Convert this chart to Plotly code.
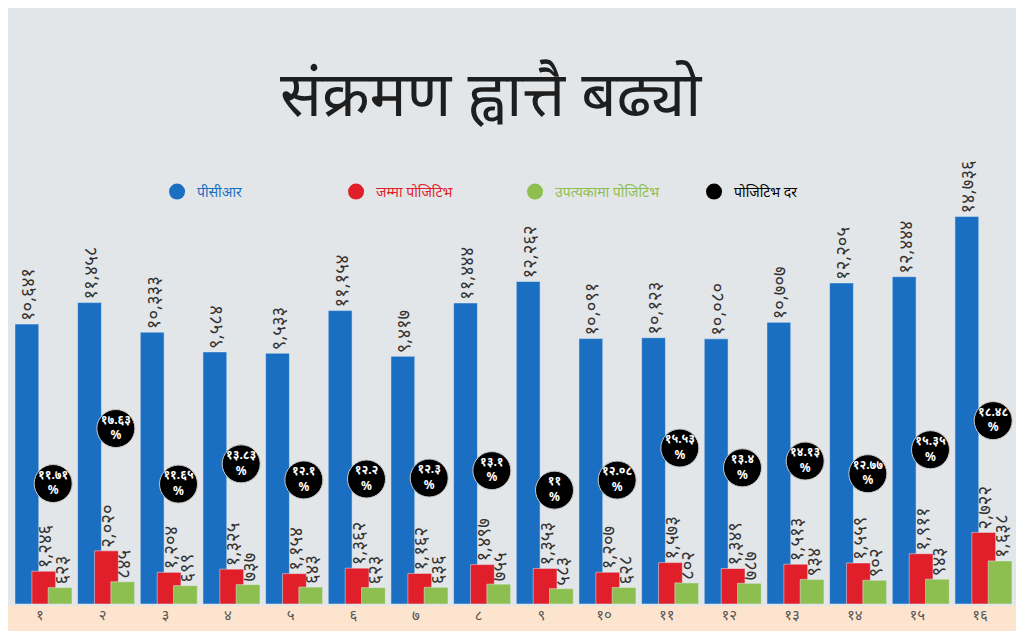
import plotly.graph_objects as go

# data
days = list(range(1, 17))
pcr = [10641, 11458, 10333, 9584, 9533, 11154, 9417, 11444, 12262, 10091, 10123, 10080, 10707, 12205, 12444, 14736]
positive = [1246, 2020, 1204, 1325, 1154, 1362, 1162, 1497, 1353, 1207, 1573, 1349, 1513, 1559, 1911, 2722]
valley = [623, 845, 699, 737, 643, 623, 636, 755, 583, 628, 802, 787, 934, 902, 943, 1638]
rate = ["11.71", "17.63", "11.65", "13.83", "12.1", "12.2", "12.3", "13.1", "11",
        "12.08", "15.53", "13.4", "14.13", "12.77", "15.35", "18.48"]

BLUE = "#1b6fc2"
RED = "#e01f2b"
GREEN = "#8dbf50"
BG = "#e3e6e9"
FONT = "Noto Sans, sans-serif"

DIG = str.maketrans("0123456789", "०१२३४५६७८९")


def dev(v):
    if isinstance(v, int):
        v = f"{v:,}"
    return v.translate(DIG)


fig = go.Figure()

bar_style = dict(width=0.38, textposition="outside", textangle=-90, cliponaxis=False,
                 constraintext="none", showlegend=False, hoverinfo="y",
                 textfont=dict(size=18.5, color="#333333", family=FONT))
fig.add_trace(go.Bar(x=days, y=pcr, offset=-0.40, marker_color=BLUE,
                     text=[dev(v) for v in pcr], **bar_style))
fig.add_trace(go.Bar(x=days, y=positive, offset=-0.13, marker_color=RED,
                     text=[dev(v) for v in positive], **bar_style))
fig.add_trace(go.Bar(x=days, y=valley, offset=0.13, marker_color=GREEN,
                     text=[dev(v) for v in valley], **bar_style))

fig.add_trace(go.Scatter(x=[d + 0.21 for d in days], y=[float(r) for r in rate], yaxis="y2",
                         mode="markers+text", showlegend=False, cliponaxis=False,
                         marker=dict(size=38, color="black", line=dict(color="#c8c8c8", width=1)),
                         text=["<b>" + dev(r) + "<br>%</b>" for r in rate],
                         textposition="middle center",
                         textfont=dict(size=12, color="white", family=FONT)))

# legend entries (round markers like the original)
for name, col in [("पीसीआर", BLUE), ("जम्मा पोजिटिभ", RED),
                  ("उपत्यकामा पोजिटिभ", GREEN), ("पोजिटिभ दर", "black")]:
    fig.add_trace(go.Scatter(x=[None], y=[None], mode="markers",
                             marker=dict(size=16, color=col),
                             name='<span style="color:%s">%s</span>' % (col, name)))

fig.update_layout(
    width=1016, height=623,
    paper_bgcolor=BG, plot_bgcolor=BG,
    barmode="overlay",
    margin=dict(l=0, r=0, t=142, b=27),
    font=dict(family=FONT, color="#333333"),
    xaxis=dict(range=[0.489, 16.702], tickvals=days, ticktext=[dev(str(d)) for d in days],
               showgrid=False, zeroline=False, ticks="", showline=False,
               tickfont=dict(size=15, color="#555555")),
    yaxis=dict(range=[0, 17260], visible=False),
    yaxis2=dict(range=[-1.25, 47.6], overlaying="y", visible=False),
    legend=dict(orientation="h", x=0.1467, y=0.9075, xanchor="left", yanchor="middle",
                entrywidth=134, entrywidthmode="pixels", bgcolor="rgba(0,0,0,0)",
                font=dict(size=14, family=FONT)),
    shapes=[dict(type="rect", xref="paper", yref="paper", x0=0, x1=1, y0=-0.0595, y1=-0.004,
                 fillcolor="#fde4cf", line=dict(width=0), layer="below")],
    annotations=[dict(text="संक्रमण ह्वात्तै बढ्यो", xref="paper", yref="paper",
                      x=0.4754, y=1.1278, xanchor="center", yanchor="middle", showarrow=False,
                      font=dict(size=62, color="#1e1e1e", family=FONT))],
)

fig.write_html("out.html")
